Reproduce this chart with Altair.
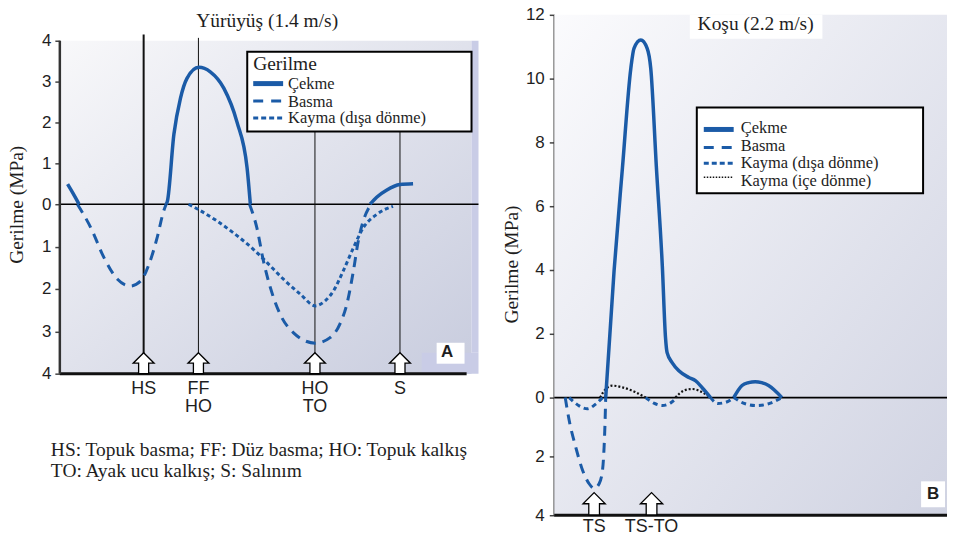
import altair as alt
import pandas as pd

BLUE = "#1b5ba7"
INK = "#1e1e1e"
SERIF = "Liberation Serif"
SANS = "Liberation Sans"

# ---------------- Panel A : Yürüyüş ----------------
walk_title = "Yürüyüş (1.4 m/s)"
walk_ticks = [-4, -3, -2, -1, 0, 1, 2, 3, 4]
walk_tension_x = [[1.9, 3.2, 4.7],
                  [26.0, 26.3, 27.9, 29.5, 31.1, 34.0, 36.8, 40.1, 43.3, 45.8, 46.6],
                  [75.9, 77.5, 79.9, 83.2, 86.4]]
walk_tension_y = [[0.49, 0.27, 0.0],
                  [0.0, 0.07, 1.71, 2.59, 3.08, 3.35, 3.24, 2.84, 2.02, 0.89, 0.0],
                  [0.0, 0.17, 0.34, 0.48, 0.50]]
walk_compress_x = [[4.3, 7.6, 10.8, 14.1, 17.3, 19.8, 21.8, 23.8, 25.4, 26.0],
                   [46.4, 48.2, 49.8, 51.5, 53.9, 57.1, 62.5, 66.1, 68.5, 70.2, 71.8, 73.0, 74.2, 75.4, 76.3]]
walk_compress_y = [[0.0, -0.56, -1.26, -1.77, -1.93, -1.81, -1.42, -0.79, -0.16, 0.0],
                   [0.0, -0.56, -1.34, -1.97, -2.60, -3.03, -3.28, -3.15, -2.83, -2.36, -1.58, -0.87, -0.40, -0.12, 0.0]]
walk_shear_x = [[31.5, 33.8, 38.5, 42.5, 47.4, 50.7, 54.7, 58.8, 62.5, 64.9, 66.9, 69.3, 71.8, 74.2, 77.5, 81.5]]
walk_shear_y = [[0.0, -0.12, -0.40, -0.68, -1.07, -1.38, -1.77, -2.12, -2.40, -2.28, -2.05, -1.58, -1.03, -0.56, -0.24, -0.05]]
walk_events_x = [20.5, 33.9, 62.4, 83.2]
walk_events_top = [4.15, 4.07, 1.8, 1.8]
walk_events_l1 = ["HS", "FF", "HO", "S"]
walk_events_l2 = ["", "HO", "TO", ""]
walk_legend_title = "Gerilme"
walk_legend = ["Çekme", "Basma", "Kayma (dışa dönme)"]
walk_notes = ["HS: Topuk basma; FF: Düz basma; HO: Topuk kalkış",
              "TO: Ayak ucu kalkış; S: Salınım"]

# ---------------- Panel B : Koşu ----------------
run_title = "Koşu (2.2 m/s)"
run_ticks = [-4, -2, 0, 2, 4, 6, 8, 10, 12]
run_tension_x = [[12.9, 15.0, 17.1, 19.2, 20.0, 21.7, 23.3, 24.2, 25.6, 27.1, 27.9, 28.3, 29.6, 31.25, 33.75, 35.4, 37.1, 39.2],
                 [45.0, 47.1, 48.75, 50.4, 52.0, 53.75, 57.1]]
run_tension_y = [[0.0, 3.97, 7.2, 10.32, 10.95, 11.21, 10.95, 10.32, 7.25, 4.13, 1.88, 1.41, 1.09, 0.84, 0.63, 0.53, 0.31, 0.0],
                 [0.0, 0.38, 0.47, 0.50, 0.47, 0.38, 0.0]]
run_compress_x = [[2.75, 3.75, 5.4, 7.1, 8.75, 10.0, 11.25, 12.1, 12.5, 12.75, 12.9]]
run_compress_y = [[0.0, -0.78, -1.69, -2.47, -2.93, -3.09, -2.93, -2.47, -1.68, -0.78, 0.0]]
run_shear_out_x = [[3.75, 6.25, 8.3, 10.4, 12.1], [22.9, 25.0, 27.1, 29.2, 30.8],
                   [39.2, 41.0, 42.8, 45.0], [45.0, 47.9, 50.8, 54.2, 57.1]]
run_shear_out_y = [[0.0, -0.28, -0.38, -0.22, 0.0], [0.0, -0.19, -0.27, -0.18, 0.0],
                   [0.0, -0.20, -0.17, 0.0], [0.0, -0.21, -0.27, -0.19, 0.0]]
run_shear_in_x = [[11.5, 12.9, 14.6, 17.1, 20.4, 22.9], [30.4, 32.5, 34.6, 37.1, 39.2]]
run_shear_in_y = [[0.0, 0.27, 0.375, 0.32, 0.17, 0.0], [0.0, 0.22, 0.27, 0.17, 0.0]]
run_events_x = [10.0, 24.4]
run_events_l = ["TS", "TS-TO"]
run_legend = ["Çekme", "Basma", "Kayma (dışa dönme)", "Kayma (içe dönme)"]


def seg_frame(xs_list, ys_list):
    rows = []
    for i, (xs, ys) in enumerate(zip(xs_list, ys_list)):
        rows += [{"x": x, "y": y, "seg": i} for x, y in zip(xs, ys)]
    return pd.DataFrame(rows)


ONE = pd.DataFrame({"k": [0]})
ARROW = "M0,-1L1,0L0.48,0L0.48,1L-0.48,1L-0.48,0L-1,0Z"


def box(x1, x2, y1, y2, fill, stroke=None, sw=0):
    kw = dict(fill=fill)
    if stroke:
        kw.update(stroke=stroke, strokeWidth=sw)
    return alt.Chart(ONE).mark_rect(**kw).encode(
        x=alt.value(x1), x2=alt.value(x2), y=alt.value(y1), y2=alt.value(y2))


def label(s, x, y, size, font=SERIF, align="left", weight="normal"):
    return alt.Chart(ONE).mark_text(text=s, font=font, fontSize=size, align=align,
                                    baseline="alphabetic", fontWeight=weight, color=INK
                                    ).encode(x=alt.value(x), y=alt.value(y))


def seg_rule(x1, x2, y, color, width, dash=None):
    kw = dict(color=color, strokeWidth=width)
    if dash:
        kw["strokeDash"] = dash
    return alt.Chart(ONE).mark_rule(**kw).encode(x=alt.value(x1), x2=alt.value(x2), y=alt.value(y))


def grad(c0, c1):
    return alt.Gradient(gradient="linear",
                        stops=[alt.GradientStop(offset=0, color=c0), alt.GradientStop(offset=1, color=c1)],
                        x1=0, y1=0, x2=1, y2=1)


def line(df, X, Y, color, width, dash=None):
    kw = dict(color=color, strokeWidth=width, interpolate="monotone", strokeCap="butt")
    if dash:
        kw["strokeDash"] = dash
    return alt.Chart(df).mark_line(**kw).encode(x=X, y=Y, detail="seg:N")


def y_axis(values, domain, title_y, pad):
    kw = dict(values=values, labelExpr="abs(datum.value)", tickSize=5, tickColor="#444",
              tickWidth=1.5, labelFont=SANS, labelFontSize=17, labelColor=INK, labelPadding=pad,
              grid=False, title="Gerilme (MPa)", titleFont=SERIF, titleFontSize=19.5,
              titleFontWeight="normal", titleColor=INK, titleX=-43, titleY=title_y,
              titleBaseline="middle", titleAngle=270, domain=domain)
    if domain:
        kw.update(domainColor="#333", domainWidth=2.5)
    return alt.Axis(**kw)


# ================= Panel A =================
WA, HA = 413, 360
xA = alt.Scale(domain=[0, 100.7], nice=False, zero=False)
yA = alt.Scale(domain=[-4, 0, 4.634], range=[HA, 190, 0], nice=False, zero=False)
axA = y_axis(walk_ticks, False, 190, 4)
XA = alt.X("x:Q", scale=xA, axis=None)
YA = alt.Y("y:Q", scale=yA, axis=axA)

walk_ev = pd.DataFrame({"x": walk_events_x, "top": walk_events_top, "l1": walk_events_l1,
                        "l2": walk_events_l2})
walk_ev["bot"] = -4
frame_A = pd.DataFrame({"x1": [0.0, 0.0, 0.0], "x2": [102.4, 99.5, 0.0], "y1": [0, -4, -4], "y2": [0, -4, 4]})

layers_A = [
    box(0, WA, 26, HA, grad("#f8f8fa", "#c8ccde")),
    box(WA, WA + 7, 26, 339, "#c9cce6"),
    box(363, WA + 7, 339, HA, "#c9cce6"),
    alt.Chart(frame_A.iloc[[0]]).mark_rule(color="black", strokeWidth=1.6).encode(
        x=alt.X("x1:Q", scale=xA, axis=None), x2="x2:Q", y=alt.Y("y1:Q", scale=yA, axis=axA)),
    alt.Chart(walk_ev.iloc[[0]]).mark_rule(color="#111", strokeWidth=2).encode(
        x=XA, y=alt.Y("top:Q", scale=yA, axis=axA), y2="bot:Q"),
    alt.Chart(walk_ev.iloc[1:]).mark_rule(color="#111", strokeWidth=1).encode(
        x=XA, y=alt.Y("top:Q", scale=yA, axis=axA), y2="bot:Q"),
    line(seg_frame(walk_compress_x, walk_compress_y), XA, YA, BLUE, 3, [10, 7]),
    line(seg_frame(walk_shear_x, walk_shear_y), XA, YA, BLUE, 3, [4, 3]),
    line(seg_frame(walk_tension_x, walk_tension_y), XA, YA, BLUE, 3.5),
    # legend
    box(188, WA, 37, 117, "white", "black", 2),
    label(walk_legend_title, 194, 55, 19.5),
    seg_rule(194, 224, 69, BLUE, 5),
    seg_rule(194, 224, 86.5, BLUE, 3, [10, 8]),
    seg_rule(194, 224, 103.5, BLUE, 3, [5, 3]),
    label(walk_legend[0], 229, 74.3, 16.5),
    label(walk_legend[1], 229, 92, 16.5),
    label(walk_legend[2], 229, 108.7, 16.5),
    # axes lines
    alt.Chart(frame_A.iloc[[1]]).mark_rule(color="#111", strokeWidth=3).encode(
        x=alt.X("x1:Q", scale=xA, axis=None), x2="x2:Q", y=alt.Y("y1:Q", scale=yA, axis=axA)),
    alt.Chart(frame_A.iloc[[2]]).mark_rule(color="#333", strokeWidth=2.5).encode(
        x=alt.X("x1:Q", scale=xA, axis=None), y=alt.Y("y1:Q", scale=yA, axis=axA), y2="y2:Q"),
    # arrows and labels
    alt.Chart(walk_ev).mark_point(shape=ARROW, size=441, filled=True, fill="white", stroke="black",
                                  strokeWidth=1.3, opacity=1, yOffset=-10.5).encode(
        x=XA, y=alt.Y("bot:Q", scale=yA, axis=axA)),
    alt.Chart(walk_ev).mark_text(font=SANS, fontSize=18, color=INK, baseline="alphabetic").encode(
        x=XA, y=alt.value(380.3), text="l1:N"),
    alt.Chart(walk_ev).mark_text(font=SANS, fontSize=18, color=INK, baseline="alphabetic").encode(
        x=XA, y=alt.value(398.7), text="l2:N"),
    box(378, 406, 329, 350, "white"),
    label("A", 388.5, 343.7, 17, SANS, "center", "bold"),
    label(walk_title, 208, 12, 19.5, SERIF, "center"),
    label(walk_notes[0], -9, 443, 19.5),
    label(walk_notes[1], -9, 464, 19.5),
]
panel_A = alt.layer(*layers_A).properties(width=WA, height=HA)

# ================= Panel B =================
WB, HB = 394, 502
XMAX_B = WB / 4.0
xB = alt.Scale(domain=[0, XMAX_B], nice=False, zero=False)
yB = alt.Scale(domain=[-4, 0, 12], range=[HB, 384, 0], nice=False, zero=False)
axB = y_axis(run_ticks, True, 250, 5)
XB = alt.X("x:Q", scale=xB, axis=None)
YB = alt.Y("y:Q", scale=yB, axis=axB)

run_ev = pd.DataFrame({"x": run_events_x, "l": run_events_l})
run_ev["bot"] = -4
frame_B = pd.DataFrame({"x1": [0.0, 0.0], "x2": [XMAX_B, XMAX_B], "y1": [0, -4]})

layers_B = [
    box(0, WB, 0, HB, grad("#fbfbfd", "#d0d3e2")),
    alt.Chart(frame_B.iloc[[0]]).mark_rule(color="black", strokeWidth=1.6).encode(
        x=alt.X("x1:Q", scale=xB, axis=None), x2="x2:Q", y=alt.Y("y1:Q", scale=yB, axis=axB)),
    line(seg_frame(run_shear_in_x, run_shear_in_y), XB, YB, "#111", 2.2, [2, 2]),
    line(seg_frame(run_shear_out_x, run_shear_out_y), XB, YB, BLUE, 3, [5, 4]),
    line(seg_frame(run_compress_x, run_compress_y), XB, YB, BLUE, 3, [10, 7]),
    line(seg_frame(run_tension_x, run_tension_y), XB, YB, BLUE, 3.5),
    alt.Chart(frame_B.iloc[[1]]).mark_rule(color="#111", strokeWidth=3).encode(
        x=alt.X("x1:Q", scale=xB, axis=None), x2="x2:Q", y=alt.Y("y1:Q", scale=yB, axis=axB)),
    # legend
    box(143, 370, 93, 179, "white", "black", 2),
    seg_rule(150, 180, 115, BLUE, 5),
    seg_rule(150, 180, 133, BLUE, 3, [10, 8]),
    seg_rule(150, 180, 149, BLUE, 3, [5, 3]),
    seg_rule(150, 180, 163, "#111", 1.5, [1.5, 1.5]),
    label(run_legend[0], 187, 119, 16.5),
    label(run_legend[1], 187, 137, 16.5),
    label(run_legend[2], 187, 154, 16.5),
    label(run_legend[3], 187, 172, 16.5),
    # title box
    box(136, 269, 0, 24, "white"),
    label(run_title, 202, 15.5, 19.5, SERIF, "center"),
    # arrows and labels
    alt.Chart(run_ev).mark_point(shape=ARROW, size=500, filled=True, fill="white", stroke="black",
                                 strokeWidth=1.3, opacity=1, yOffset=-11.5).encode(
        x=XB, y=alt.Y("bot:Q", scale=yB, axis=axB)),
    alt.Chart(run_ev).mark_text(font=SANS, fontSize=18, color=INK, baseline="alphabetic").encode(
        x=XB, y=alt.value(519), text="l:N"),
    box(368, 392, 468, 494, "white"),
    label("B", 380, 486, 17, SANS, "center", "bold"),
]
panel_B = alt.layer(*layers_B).properties(width=WB, height=HB)

chart = alt.hconcat(panel_A, panel_B, spacing=83, bounds="flush",
                    padding={"left": -1, "top": -3, "right": 0, "bottom": -3}
                    ).configure_view(stroke=None)

chart.save("out.html", embed_options={"renderer": "svg", "actions": False})
